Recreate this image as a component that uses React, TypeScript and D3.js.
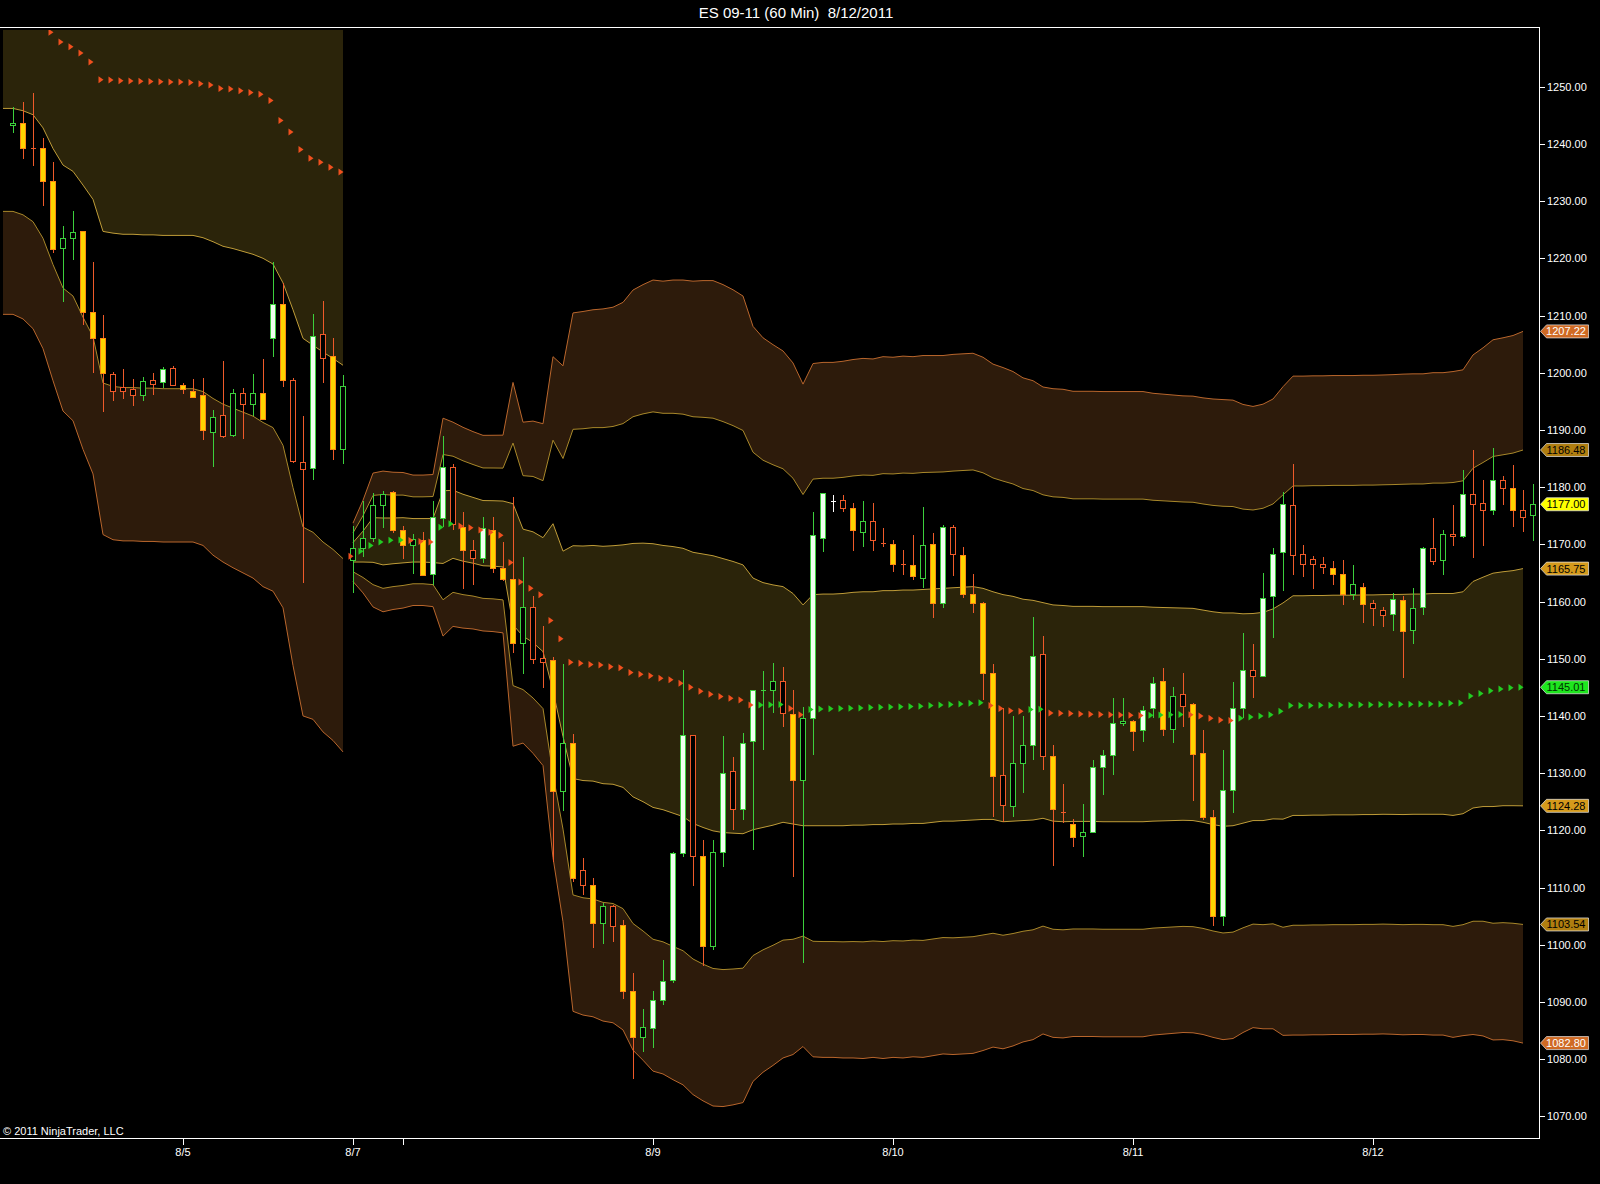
import { area, line, scaleLinear } from "d3";

// ---- bar data, one value per 60 min bar (index 0 = first bar on the left) ----
const open = [
  1243.2, 1243.6, 1239.2, 1239.2, 1233.5, 1221.7, 1223.4, 1224.6, 1210.6, 1206.0,
  1199.6, 1197.4, 1197.1, 1196.1, 1198.6, 1198.3, 1200.8, 1197.8, 1196.8, 1196.1,
  1189.5, 1192.6, 1189.1, 1196.3, 1194.5, 1196.3, 1206.0, 1212.0, 1198.6, 1184.3,
  1183.3, 1206.6, 1202.8, 1186.5, 1167.1, 1169.3, 1171.1, 1176.8, 1179.0, 1172.4,
  1169.8, 1170.7, 1164.8, 1174.5, 1183.4, 1172.9, 1168.9, 1167.5, 1172.4, 1165.7,
  1163.9, 1152.6, 1158.9, 1150.1, 1149.6, 1126.7, 1135.1, 1112.9, 1110.3, 1103.7,
  1106.6, 1103.4, 1091.9, 1083.7, 1085.3, 1090.3, 1093.8, 1115.9, 1136.5, 1115.4,
  1099.6, 1116.1, 1130.3, 1123.7, 1135.5, 1144.4, 1144.4, 1146.0, 1140.3, 1128.7,
  1139.6, 1171.1, 1177.5, 1177.6, 1176.3, 1172.1, 1173.9, 1170.2, 1170.0, 1166.5,
  1166.3, 1164.1, 1169.9, 1159.6, 1173.0, 1168.0, 1161.3, 1159.7, 1147.5, 1129.5,
  1124.2, 1131.7, 1134.8, 1150.8, 1132.9, 1123.1, 1121.0, 1118.9, 1119.7, 1131.0,
  1133.0, 1138.7, 1139.0, 1137.4, 1141.3, 1146.0, 1137.7, 1143.8, 1142.0, 1133.5,
  1122.3, 1105.0, 1126.9, 1141.3, 1147.9, 1146.9, 1160.8, 1168.5, 1176.8, 1168.3,
  1167.3, 1166.5, 1165.8, 1164.7, 1161.2, 1162.5, 1159.6, 1158.5, 1157.8, 1160.2,
  1154.9, 1159.0, 1169.3, 1167.2, 1171.8, 1171.3, 1178.7, 1177.1, 1175.9, 1181.2,
  1179.8, 1175.9, 1175.0,
];
const high = [
  1246.4, 1247.3, 1248.9, 1241.0, 1236.9, 1225.7, 1228.3, 1224.6, 1219.3, 1210.1,
  1200.2, 1200.6, 1198.9, 1199.3, 1200.0, 1201.0, 1201.1, 1198.2, 1198.9, 1199.0,
  1193.4, 1202.0, 1197.1, 1197.3, 1199.8, 1202.4, 1219.3, 1215.7, 1199.0, 1192.4,
  1210.2, 1212.6, 1206.0, 1199.6, 1173.2, 1177.5, 1179.0, 1179.3, 1179.3, 1173.2,
  1171.8, 1172.1, 1177.5, 1189.0, 1184.1, 1175.7, 1170.7, 1174.7, 1174.7, 1170.4,
  1178.2, 1167.8, 1161.0, 1155.7, 1150.3, 1149.0, 1136.8, 1115.2, 1111.6, 1107.3,
  1106.9, 1104.4, 1095.1, 1088.7, 1091.9, 1097.4, 1116.2, 1148.0, 1136.7, 1118.3,
  1118.3, 1136.5, 1132.9, 1137.0, 1144.6, 1147.8, 1149.2, 1148.6, 1144.6, 1141.6,
  1175.7, 1178.8, 1178.7, 1178.6, 1177.2, 1177.5, 1177.2, 1172.8, 1170.8, 1169.0,
  1171.7, 1176.6, 1171.9, 1173.4, 1173.4, 1169.5, 1164.8, 1160.0, 1149.1, 1141.3,
  1139.9, 1139.9, 1157.3, 1153.9, 1134.9, 1128.1, 1122.0, 1124.6, 1132.3, 1134.0,
  1143.1, 1143.1, 1139.3, 1141.8, 1146.8, 1148.3, 1145.1, 1147.5, 1142.2, 1137.6,
  1123.6, 1134.1, 1146.0, 1154.5, 1152.6, 1164.9, 1169.3, 1179.2, 1184.1, 1169.9,
  1167.9, 1167.8, 1167.0, 1167.3, 1166.4, 1163.2, 1160.2, 1159.1, 1161.5, 1161.0,
  1162.3, 1169.6, 1174.6, 1172.5, 1176.9, 1183.0, 1186.4, 1181.2, 1186.8, 1181.9,
  1183.9, 1179.5, 1180.6,
];
const low = [
  1241.9, 1237.4, 1236.1, 1229.1, 1220.9, 1212.3, 1219.7, 1208.4, 1200.0, 1193.1,
  1195.0, 1195.4, 1194.2, 1195.0, 1196.1, 1197.3, 1197.8, 1196.3, 1195.5, 1188.3,
  1183.5, 1188.5, 1188.7, 1188.4, 1192.4, 1191.8, 1202.8, 1197.5, 1184.2, 1163.2,
  1181.3, 1198.2, 1184.8, 1184.0, 1161.4, 1167.8, 1170.4, 1172.9, 1171.9, 1167.5,
  1164.8, 1164.6, 1162.8, 1173.0, 1172.5, 1162.1, 1162.8, 1166.8, 1165.0, 1163.6,
  1151.0, 1147.4, 1149.0, 1144.9, 1114.5, 1123.4, 1110.9, 1108.7, 1099.4, 1100.1,
  1100.5, 1090.5, 1076.5, 1081.2, 1081.9, 1089.4, 1093.3, 1115.4, 1110.2, 1096.2,
  1099.1, 1113.5, 1120.1, 1121.8, 1116.6, 1134.0, 1140.5, 1138.1, 1111.9, 1096.8,
  1133.2, 1168.7, 1175.7, 1175.7, 1168.9, 1169.5, 1168.9, 1169.5, 1165.2, 1164.7,
  1163.8, 1162.3, 1157.1, 1158.8, 1164.4, 1160.6, 1158.0, 1142.8, 1122.4, 1121.5,
  1122.4, 1126.5, 1132.3, 1130.6, 1113.7, 1121.2, 1117.1, 1115.3, 1119.5, 1126.2,
  1129.7, 1138.2, 1133.8, 1135.5, 1139.6, 1136.4, 1135.2, 1138.1, 1125.2, 1121.8,
  1103.2, 1103.2, 1123.0, 1139.6, 1143.1, 1146.9, 1153.6, 1161.8, 1164.7, 1164.2,
  1162.2, 1164.8, 1162.9, 1159.4, 1160.2, 1156.2, 1155.8, 1155.5, 1154.9, 1146.6,
  1152.6, 1157.7, 1166.4, 1164.7, 1169.7, 1171.1, 1167.6, 1169.7, 1175.2, 1176.9,
  1173.0, 1172.2, 1170.5,
];
const close = [
  1243.6, 1239.2, 1239.0, 1233.5, 1221.6, 1223.4, 1224.5, 1210.6, 1206.0, 1199.8,
  1196.7, 1196.8, 1196.1, 1198.5, 1197.9, 1200.6, 1197.8, 1197.0, 1195.7, 1189.9,
  1192.2, 1188.8, 1196.3, 1194.5, 1196.3, 1191.9, 1212.0, 1198.6, 1184.5, 1183.0,
  1206.3, 1202.5, 1186.5, 1197.6, 1169.3, 1171.1, 1176.8, 1178.7, 1172.4, 1169.8,
  1170.9, 1164.6, 1174.7, 1183.4, 1173.4, 1168.9, 1167.5, 1172.7, 1165.7, 1163.9,
  1152.6, 1158.9, 1149.9, 1149.4, 1126.7, 1135.1, 1111.6, 1110.3, 1103.7, 1106.7,
  1103.2, 1091.9, 1083.7, 1085.5, 1090.3, 1093.5, 1115.9, 1136.5, 1115.4, 1099.6,
  1116.1, 1130.0, 1123.7, 1135.2, 1144.4, 1144.5, 1146.0, 1140.5, 1128.7, 1139.6,
  1171.5, 1178.8, 1177.5, 1176.3, 1172.4, 1173.9, 1170.6, 1170.0, 1166.4, 1166.4,
  1164.3, 1169.8, 1159.6, 1172.9, 1168.3, 1161.3, 1159.7, 1147.5, 1129.4, 1124.4,
  1131.7, 1134.8, 1150.4, 1132.9, 1123.7, 1123.0, 1118.8, 1119.6, 1131.0, 1133.0,
  1138.7, 1139.0, 1137.3, 1140.9, 1145.7, 1137.7, 1143.4, 1141.6, 1133.3, 1122.3,
  1105.0, 1126.9, 1141.3, 1147.9, 1146.9, 1160.6, 1168.3, 1177.0, 1168.0, 1166.5,
  1166.5, 1166.0, 1164.7, 1161.2, 1162.9, 1159.5, 1158.8, 1157.6, 1160.3, 1154.8,
  1158.8, 1169.3, 1167.0, 1171.8, 1171.3, 1178.7, 1176.9, 1175.9, 1181.2, 1179.8,
  1175.9, 1174.7, 1177.0,
];
// 1 = solid painted bar, 0 = outline bar
const heavy = [
  0, 1, 0, 1, 1, 0, 0, 1, 1, 1, 0, 0, 0, 0, 0, 1, 0, 1, 1, 1,
  0, 0, 0, 0, 0, 1, 1, 1, 0, 0, 1, 0, 1, 0, 0, 0, 0, 0, 1, 1,
  0, 1, 1, 1, 0, 1, 0, 1, 1, 1, 1, 0, 0, 0, 1, 0, 1, 0, 1, 0,
  0, 1, 1, 0, 1, 1, 1, 1, 0, 1, 0, 1, 0, 1, 1, 0, 0, 0, 1, 0,
  1, 1, 1, 0, 1, 0, 0, 0, 1, 0, 1, 0, 1, 1, 0, 1, 1, 1, 1, 0,
  0, 0, 1, 0, 1, 0, 1, 0, 1, 1, 1, 0, 1, 1, 1, 1, 0, 0, 1, 1,
  1, 1, 1, 1, 0, 1, 1, 1, 0, 0, 0, 0, 1, 1, 0, 1, 0, 0, 1, 1,
  0, 1, 0, 0, 0, 1, 0, 0, 1, 0, 1, 0, 0,
];

// ---- indicators (computed on bar close, so one value fewer than bars) ----
const trail = [
  1264.6, 1263.9, 1262.8, 1261.2, 1259.5, 1257.8, 1257.0, 1255.9, 1254.3, 1251.2,
  1251.15, 1251.05, 1251.0, 1250.95, 1250.9, 1250.85, 1250.82, 1250.8, 1250.75, 1250.5,
  1250.3, 1249.7, 1249.6, 1249.3, 1249.0, 1248.7, 1247.6, 1244.1, 1242.1, 1239.0,
  1237.5, 1236.8, 1235.9, 1235.1, 1167.9, 1168.8, 1169.8, 1170.4, 1170.7, 1170.75,
  1170.65, 1170.5, 1170.4, 1173.0, 1173.6, 1173.2, 1172.9, 1172.5, 1172.1, 1171.6,
  1166.8, 1163.4, 1162.3, 1161.2, 1156.7, 1153.5, 1149.4, 1149.2, 1149.0, 1148.9,
  1148.6, 1148.4, 1147.6, 1147.3, 1147.0, 1146.6, 1146.3, 1145.7, 1145.0, 1144.3,
  1143.8, 1143.4, 1143.1, 1142.8, 1141.9, 1141.9, 1141.95, 1142.0, 1141.3, 1140.2,
  1141.1, 1141.2, 1141.25, 1141.3, 1141.35, 1141.4, 1141.45, 1141.5, 1141.55, 1141.6,
  1141.65, 1141.7, 1141.8, 1141.9, 1142.0, 1142.1, 1142.2, 1142.3, 1141.8, 1141.3,
  1140.9, 1140.8, 1141.1, 1141.15, 1140.5, 1140.45, 1140.4, 1140.35, 1140.3, 1140.25,
  1140.2, 1140.15, 1140.1, 1140.05, 1140.1, 1140.15, 1140.2, 1140.25, 1140.2, 1140.0,
  1139.6, 1139.3, 1139.2, 1139.6, 1139.8, 1140.0, 1140.2, 1140.8, 1141.8, 1141.82,
  1141.84, 1141.86, 1141.88, 1141.9, 1141.92, 1141.94, 1141.96, 1141.98, 1142.0, 1142.02,
  1142.04, 1142.06, 1142.08, 1142.1, 1142.2, 1142.25, 1143.5, 1143.9, 1144.4, 1144.7,
  1144.9, 1145.01,
];
const bandMid = [
  1264.2, 1264.0, 1263.8, 1262.1, 1259.5, 1257.8, 1257.0, 1255.9, 1254.3, 1251.2,
  1251.2, 1251.0, 1251.0, 1250.9, 1250.9, 1250.8, 1250.8, 1250.8, 1250.8, 1250.5,
  1250.3, 1249.7, 1249.6, 1249.3, 1249.0, 1248.7, 1247.6, 1244.1, 1242.1, 1239.0,
  1237.5, 1236.8, 1235.9, 1235.1, 1168.6, 1169.6, 1170.75, 1170.5, 1170.6, 1170.7,
  1170.7, 1170.7, 1170.65, 1173.0, 1173.5, 1172.9, 1172.45, 1171.95, 1171.9, 1171.8,
  1166.5, 1163.3, 1162.5, 1161.2, 1159.0, 1152.6, 1149.4, 1149.2, 1149.2, 1148.9,
  1148.9, 1148.7, 1148.0, 1147.6, 1147.05, 1146.7, 1146.3, 1145.85, 1144.9, 1144.4,
  1143.95, 1143.55, 1143.25, 1142.9, 1142.1, 1141.9, 1141.9, 1142.0, 1141.25, 1140.1,
  1141.0, 1141.05, 1141.05, 1141.1, 1141.25, 1141.3, 1141.35, 1141.45, 1141.5, 1141.55,
  1141.6, 1141.65, 1141.8, 1141.95, 1142.0, 1142.1, 1142.2, 1142.1, 1141.8, 1141.35,
  1141.25, 1141.05, 1141.0, 1140.95, 1140.5, 1140.4, 1140.35, 1140.35, 1140.35, 1140.3,
  1140.3, 1140.3, 1140.3, 1140.3, 1140.3, 1140.3, 1140.3, 1140.3, 1140.25, 1139.95,
  1139.6, 1139.35, 1139.4, 1139.55, 1139.8, 1139.9, 1140.35, 1140.85, 1141.8, 1141.8,
  1141.85, 1141.85, 1141.9, 1141.9, 1141.9, 1141.95, 1141.95, 1142.0, 1142.0, 1142.0,
  1142.05, 1142.05, 1142.1, 1142.1, 1142.0, 1142.3, 1143.7, 1144.2, 1144.55, 1144.75,
  1144.85, 1145.012,
];
const bandDev = [
  18.0, 18.2, 18.7, 19.3, 20.3, 21.5, 21.8, 23.1, 24.0, 26.5,
  26.8, 26.8, 26.8, 26.8, 26.8, 26.8, 26.8, 26.8, 26.8, 26.9,
  27.4, 27.6, 27.9, 28.1, 28.3, 28.7, 28.6, 28.4, 31.1, 33.0,
  32.7, 33.2, 33.4, 33.8, 1.7, 2.7, 3.9, 4.1, 4.0, 3.95,
  3.8, 3.8, 3.85, 6.35, 5.95, 5.85, 5.75, 5.7, 5.72, 5.76,
  10.6, 9.35, 9.68, 9.96, 14.6, 16.2, 20.35, 20.5, 20.6, 20.75,
  20.85, 21.2, 22.15, 22.6, 23.05, 23.1, 23.3, 23.45, 23.7, 23.9,
  24.05, 23.95, 23.75, 23.5, 22.0, 21.4, 21.0, 20.6, 20.15, 19.3,
  20.2, 20.25, 20.25, 20.3, 20.35, 20.4, 20.35, 20.45, 20.4, 20.45,
  20.4, 20.45, 20.4, 20.35, 20.4, 20.4, 20.4, 20.2, 19.9, 19.85,
  19.65, 19.35, 19.2, 18.85, 18.9, 18.9, 18.8, 18.8, 18.8, 18.8,
  18.8, 18.8, 18.8, 18.8, 18.7, 18.65, 18.6, 18.55, 18.55, 18.55,
  18.6, 18.65, 18.6, 18.3, 18.1, 18.2, 18.35, 18.9, 19.2, 19.2,
  19.2, 19.2, 19.2, 19.2, 19.2, 19.2, 19.2, 19.2, 19.22, 19.25,
  19.25, 19.25, 19.3, 19.3, 19.4, 19.4, 19.8, 20.05, 20.4, 20.45,
  20.55, 20.7362,
];

// first bar of the new session (bands restart there)
const sessionStart = 34;

const dateTickBars = [17, 34, 39, 64, 88, 112, 136];
const dateTickLabels = ["8/5", "8/7", "", "8/9", "8/10", "8/11", "8/12"];
const priceTicks = [
  1070, 1080, 1090, 1100, 1110, 1120, 1130, 1140, 1150, 1160,
  1170, 1180, 1190, 1200, 1210, 1220, 1230, 1240, 1250,
];

const W = 1600;
const H = 1184;
const plot = { left: 3, top: 30, right: 1539, bottom: 1138 };
const FONT = "'Liberation Sans', Arial, sans-serif";

const x = scaleLinear().domain([0, 152]).range([13, 1533]);
const y = scaleLinear().domain([1070, 1250]).range([1116.3, 86.7]);

const OLIVE = "#2b240a";
const BROWN = "#2d1b0b";
const LINE1 = "#bf9c38";
const LINE2 = "#a8882a";
const LINE3 = "#b9662c";
const UP = "#3ccf3c";
const UP_FILL = "#f0fff0";
const DN = "#ee5a2a";
const DN_FILL = "#ffd400";
const DN_EDGE = "#ff8a10";
const TRI_UP = "#22cc22";
const TRI_DN = "#f0501e";

type BandPt = { x: number; m: number; d: number };

function segment(from: number, to: number, leftEdge?: number): BandPt[] {
  const pts: BandPt[] = [];
  if (leftEdge !== undefined) pts.push({ x: leftEdge, m: bandMid[from], d: bandDev[from] });
  for (let i = from; i <= to; i++) pts.push({ x: x(i), m: bandMid[i], d: bandDev[i] });
  return pts;
}

const band = (a: number, b: number) =>
  area<BandPt>()
    .x((p) => p.x)
    .y0((p) => y(p.m + a * p.d))
    .y1((p) => y(p.m + b * p.d));
const bandLine = (a: number) =>
  line<BandPt>()
    .x((p) => p.x)
    .y((p) => y(p.m + a * p.d));

function Bands({ pts }: { pts: BandPt[] }) {
  return (
    <g>
      <path d={band(-1, 1)(pts) ?? ""} fill={OLIVE} />
      <path d={band(2, 3)(pts) ?? ""} fill={BROWN} />
      <path d={band(-3, -2)(pts) ?? ""} fill={BROWN} />
      {[
        [1, LINE1], [-1, LINE1], [2, LINE2], [-2, LINE2], [3, LINE3], [-3, LINE3],
      ].map(([m, c]) => (
        <path key={String(m)} d={bandLine(m as number)(pts) ?? ""} fill="none" stroke={c as string} strokeWidth={1} />
      ))}
    </g>
  );
}

function Candles() {
  return (
    <g shapeRendering="crispEdges">
      {open.map((o, i) => {
        const c = close[i];
        const up = c >= o;
        const solid = heavy[i] === 1;
        const cx = x(i);
        let stroke = up ? UP : solid ? DN_EDGE : DN;
        const wick = up ? UP : DN;
        const fill = solid ? (up ? UP_FILL : DN_FILL) : "#000";
        const top = y(Math.max(o, c));
        const bot = y(Math.min(o, c));
        const doji = bot - top < 1.5;
        if (doji && solid) stroke = "#ffffff";
        return (
          <g key={i}>
            <line x1={cx} x2={cx} y1={y(high[i])} y2={y(low[i])} stroke={doji && solid ? "#ffffff" : wick} />
            {doji ? (
              <line x1={cx - 2.5} x2={cx + 2.5} y1={top} y2={top} stroke={stroke} />
            ) : (
              <rect x={cx - 2.5} y={top} width={5} height={bot - top} fill={fill} stroke={stroke} />
            )}
          </g>
        );
      })}
    </g>
  );
}

function Trail() {
  return (
    <g>
      {trail.map((v, i) => {
        const rising = i > 0 && v >= trail[i - 1];
        const cx = x(i);
        const cy = y(v);
        return (
          <path
            key={i}
            d={`M${cx - 4.5},${cy - 3.5}L${cx + 0.5},${cy}L${cx - 4.5},${cy + 3.5}Z`}
            fill={rising ? TRI_UP : TRI_DN}
          />
        );
      })}
    </g>
  );
}

function Marker({ v, fill, text }: { v: number; fill: string; text: string }) {
  const cy = y(v);
  return (
    <g>
      <path
        d={`M${plot.right + 1.5},${cy}L${plot.right + 7.5},${cy - 6.5}H1588.5V${cy + 6.5}H${plot.right + 7.5}Z`}
        fill={fill}
        stroke="#e8e8e8"
        strokeOpacity={0.7}
      />
      <text x={1566} y={cy + 4} textAnchor="middle" fontSize={11} fill={text} fontFamily={FONT}>
        {v.toFixed(2)}
      </text>
    </g>
  );
}

export default function App() {
  const last = trail.length - 1;
  const m = bandMid[last];
  const d = bandDev[last];
  const markers = [
    { v: m + 3 * d, fill: "#cf6a24", text: "#ffffff" },
    { v: m + 2 * d, fill: "#b07e10", text: "#000000" },
    { v: close[close.length - 1], fill: "#ffff00", text: "#000000" },
    { v: m + d, fill: "#d49a1c", text: "#000000" },
    { v: trail[last], fill: "#1ee61e", text: "#003300" },
    { v: m - d, fill: "#d49a1c", text: "#000000" },
    { v: m - 2 * d, fill: "#b07e10", text: "#000000" },
    { v: m - 3 * d, fill: "#cf6a24", text: "#ffffff" },
  ];
  const seg1 = segment(0, sessionStart - 1, plot.left);
  const seg2 = segment(sessionStart, last);

  return (
    <svg
      width={W}
      height={H}
      style={{ position: "absolute", left: 0, top: 0, background: "#000" }}
    >
      <defs>
        <clipPath id="plot">
          <rect x={plot.left} y={plot.top} width={plot.right - plot.left} height={plot.bottom - plot.top} />
        </clipPath>
      </defs>
      <rect width={W} height={H} fill="#000" />
      <text
        x={796}
        y={18}
        textAnchor="middle"
        fontSize={15}
        fill="#ffffff"
        fontFamily={FONT}
        style={{ whiteSpace: "pre" }}
      >
        {"ES 09-11 (60 Min)  8/12/2011"}
      </text>

      <g clipPath="url(#plot)">
        <Bands pts={seg1} />
        <Bands pts={seg2} />
        <Candles />
        <Trail />
      </g>

      {/* frame */}
      <g stroke="#ffffff" strokeWidth={1} shapeRendering="crispEdges">
        <line x1={0} x2={plot.right + 0.5} y1={27.5} y2={27.5} />
        <line x1={plot.right + 0.5} x2={plot.right + 0.5} y1={27.5} y2={plot.bottom + 0.5} />
        <line x1={0} x2={plot.right + 0.5} y1={plot.bottom + 0.5} y2={plot.bottom + 0.5} />
      </g>

      {/* price axis */}
      {priceTicks.map((p) => (
        <g key={p}>
          <line x1={plot.right} x2={plot.right + 6} y1={Math.round(y(p)) + 0.5} y2={Math.round(y(p)) + 0.5} stroke="#fff" />
          <text x={1547} y={y(p) + 4} fontSize={11} fill="#ffffff" fontFamily={FONT}>
            {p.toFixed(2)}
          </text>
        </g>
      ))}

      {/* time axis */}
      {dateTickBars.map((b, i) => (
        <g key={b}>
          <line x1={Math.round(x(b)) + 0.5} x2={Math.round(x(b)) + 0.5} y1={plot.bottom} y2={plot.bottom + 7} stroke="#fff" />
          <text x={x(b)} y={1156} textAnchor="middle" fontSize={11} fill="#ffffff" fontFamily={FONT}>
            {dateTickLabels[i]}
          </text>
        </g>
      ))}

      <text x={3} y={1135} fontSize={11} fill="#ffffff" fontFamily={FONT}>
        © 2011 NinjaTrader, LLC
      </text>

      {markers.map((mk, i) => (
        <Marker key={i} {...mk} />
      ))}
    </svg>
  );
}
